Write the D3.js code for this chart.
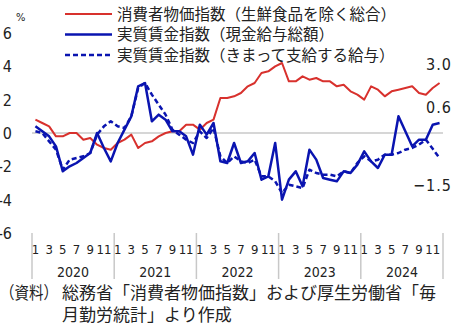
<!DOCTYPE html>
<html>
<head>
<meta charset="utf-8">
<script src="https://d3js.org/d3.v7.min.js"></script>
<style>
  body { margin: 0; background: #fff; }
  svg text { font-family: "Liberation Sans Narrow", "DejaVu Sans Condensed", sans-serif; fill: #222; }
  svg text.jp { font-family: "Noto Sans CJK JP", sans-serif; }
</style>
</head>
<body>
<div id="chart"></div>
<script>
var years = ["2020", "2021", "2022", "2023", "2024"];
var monthTicks = ["1", "3", "5", "7", "9", "11"];
var yTicks = [6, 4, 2, 0, -2, -4, -6];

// 消費者物価指数（生鮮食品を除く総合）
var cpi = [0.8, 0.6, 0.4, -0.2, -0.2, 0.0, 0.0, -0.4, -0.3, -0.7, -0.9, -1.0,
           -0.6, -0.4, -0.1, -0.9, -0.6, -0.5, -0.2, 0.0, 0.1, 0.1, 0.5, 0.5,
           0.2, 0.6, 0.8, 2.1, 2.1, 2.2, 2.4, 2.8, 3.0, 3.6, 3.7, 4.0,
           4.2, 3.1, 3.1, 3.4, 3.2, 3.3, 3.1, 3.1, 2.8, 2.9, 2.5, 2.3,
           2.0, 2.8, 2.6, 2.2, 2.5, 2.6, 2.7, 2.8, 2.4, 2.3, 2.7, 3.0];
// 実質賃金指数（現金給与総額）
var wageTotal = [0.4, 0.1, -0.2, -0.8, -2.3, -2.0, -1.8, -1.5, -1.2, 0.0, -0.9, -1.7,
                 -0.6, 0.2, 1.0, 2.8, 3.0, 0.7, 1.1, 0.8, 0.1, 0.1, -0.2, -1.3,
                 0.5, -0.1, 0.6, -1.7, -1.8, -0.6, -1.8, -1.7, -1.2, -2.8, -2.6, -0.6,
                 -4.0, -2.8, -2.3, -3.2, -1.0, -1.6, -2.7, -2.8, -2.9, -2.3, -2.4, -1.9,
                 -1.1, -1.7, -2.1, -1.3, -1.3, 1.0, 0.1, -0.8, -0.4, -0.4, 0.5, 0.6];
// 実質賃金指数（きまって支給する給与）
var wageRegular = [0.1, 0.0, -0.5, -1.0, -2.2, -1.6, -1.5, -1.4, -1.2, -0.1, 0.4, 0.7,
                   0.4, 0.3, 1.0, 2.7, 3.0, 2.3, 1.7, 1.1, 0.2, -0.1, -0.4, -0.6,
                   0.1, -0.3, 0.3, -1.4, -1.8, -1.4, -1.7, -1.8, -1.6, -2.6, -2.6, -2.9,
                   -3.6, -3.1, -3.2, -3.3, -2.2, -2.4, -2.5, -2.5, -2.6, -2.3, -2.4, -1.8,
                   -1.4, -1.7, -1.6, -1.3, -1.3, -1.2, -1.0, -0.9, -0.7, -0.4, -0.95, -1.5];

var seriesNames = ["消費者物価指数（生鮮食品を除く総合）", "実質賃金指数（現金給与総額）", "実質賃金指数（きまって支給する給与）"];
var endLabels = ["3.0", "0.6", "−1.5"];

var width = 460, height = 327;
var margin = {left: 32, right: 17, top: 33, bottom: 94};

var svg = d3.select('#chart').append('svg')
  .attr('width', width).attr('height', height);

var x = d3.scaleLinear().domain([0, years.length * 12]).range([margin.left, width - margin.right]);
var y = d3.scaleLinear().domain([-6, 6]).range([height - margin.bottom, margin.top]);

// zero line
svg.append('line')
  .attr('x1', x(0)).attr('x2', x(60))
  .attr('y1', y(0)).attr('y2', y(0))
  .attr('stroke', '#c8c8c8').attr('stroke-width', 1.5);

// y axis labels
svg.selectAll('text.ytick').data(yTicks).enter().append('text')
  .attr('class', 'ytick')
  .attr('x', 12).attr('y', function(d){ return y(d) + 6; })
  .attr('text-anchor', 'end')
  .attr('font-size', 16)
  .text(function(d){ return d < 0 ? '-' + Math.abs(d) : d; });

svg.append('text').attr('x', 16).attr('y', 21).attr('font-size', 11).text('%');

// x axis: year separators, month ticks, years
var bounds = d3.range(0, years.length * 12 + 1, 12);
svg.selectAll('line.sep').data(bounds).enter().append('line')
  .attr('x1', function(d){ return x(d); }).attr('x2', function(d){ return x(d); })
  .attr('y1', y(-6)).attr('y2', y(-6) + 46)
  .attr('stroke', '#c8c8c8').attr('stroke-width', 1.5);

years.forEach(function(yr, yi){
  monthTicks.forEach(function(m){
    svg.append('text')
      .attr('x', x(yi * 12 + (+m) - 0.5))
      .attr('y', 254)
      .attr('text-anchor', 'middle')
      .attr('font-size', 13)
      .text(m);
  });
  svg.append('text')
    .attr('x', x(yi * 12 + 6))
    .attr('y', 277)
    .attr('text-anchor', 'middle')
    .attr('font-size', 14)
    .text(yr);
});

// lines
var line = d3.line()
  .x(function(d, i){ return x(i + 0.5); })
  .y(function(d){ return y(d); });

var series = [
  {values: cpi, color: '#d8312d', width: 2, dash: null},
  {values: wageTotal, color: '#0a14b0', width: 2.5, dash: null},
  {values: wageRegular, color: '#0a14b0', width: 2.5, dash: '5,3'}
];

svg.selectAll('path.series').data(series).enter().append('path')
  .attr('class', 'series')
  .attr('d', function(d){ return line(d.values); })
  .attr('fill', 'none')
  .attr('stroke', function(d){ return d.color; })
  .attr('stroke-width', function(d){ return d.width; })
  .attr('stroke-dasharray', function(d){ return d.dash; })
  .attr('stroke-linejoin', 'round');

// end labels
var endY = [65, 108, 186];
endLabels.forEach(function(t, i){
  svg.append('text')
    .attr('x', 452).attr('y', endY[i] + 5)
    .attr('text-anchor', 'end')
    .attr('font-size', 16)
    .attr('letter-spacing', 1)
    .text(t);
});

// legend
series.forEach(function(s, i){
  var ly = 14 + i * 20.5;
  svg.append('line')
    .attr('x1', 65).attr('x2', 112).attr('y1', ly).attr('y2', ly)
    .attr('stroke', s.color).attr('stroke-width', s.width)
    .attr('stroke-dasharray', s.dash);
  svg.append('text').attr('class', 'jp')
    .attr('x', 117).attr('y', ly + 5.5)
    .attr('font-size', 15.5)
    .text(seriesNames[i]);
});

// source note
svg.append('text').attr('class', 'jp').attr('x', 0).attr('y', 299).attr('font-size', 17)
  .attr('textLength', 58).attr('lengthAdjust', 'spacingAndGlyphs').text('（資料）');
svg.append('text').attr('class', 'jp').attr('x', 62).attr('y', 299).attr('font-size', 17).text('総務省「消費者物価指数」および厚生労働省「毎');
svg.append('text').attr('class', 'jp').attr('x', 62).attr('y', 321).attr('font-size', 17).text('月勤労統計」より作成');
</script>
</body>
</html>
